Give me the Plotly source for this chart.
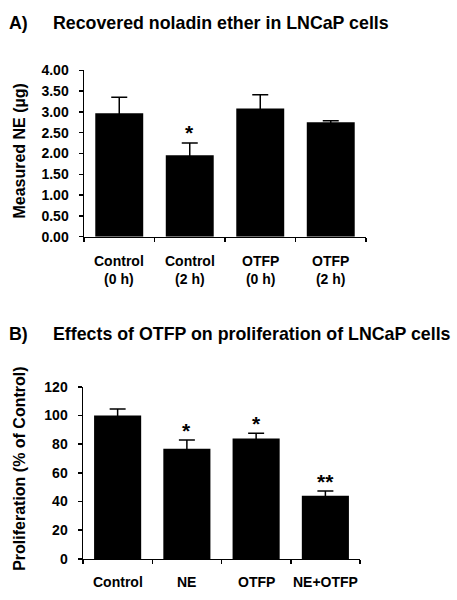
import plotly.graph_objects as go

# Panel A data
cats_a = ["Control<br>(0 h)", "Control<br>(2 h)", "OTFP<br>(0 h)", "OTFP<br>(2 h)"]
vals_a = [2.97, 1.96, 3.08, 2.75]
err_a = [0.38, 0.29, 0.33, 0.04]
sig_a = ["", "*", "", ""]

# Panel B data
cats_b = ["Control", "NE", "OTFP", "NE+OTFP"]
vals_b = [100, 76.8, 84.0, 44.0]
err_b = [4.6, 6.1, 3.6, 3.3]
sig_b = ["", "*", "*", "**"]

FONT = "Liberation Sans, Arial, sans-serif"
W, H = 457, 600

def px_x(p):
    return p / W

def px_y(p):
    return 1 - p / H

fig = go.Figure()

fig.add_trace(go.Bar(
    x=list(range(4)), y=vals_a, marker=dict(color="black", line=dict(width=0)), width=0.68,
    error_y=dict(type="data", array=err_a, color="black", thickness=1.5, width=8),
    xaxis="x", yaxis="y", showlegend=False, hoverinfo="skip"))

fig.add_trace(go.Bar(
    x=list(range(4)), y=vals_b, marker=dict(color="black", line=dict(width=0)), width=0.68,
    error_y=dict(type="data", array=err_b, color="black", thickness=1.5, width=8),
    xaxis="x2", yaxis="y2", showlegend=False, hoverinfo="skip"))

axis_common = dict(showline=True, linecolor="black", linewidth=1.5, showgrid=False,
                   zeroline=False, ticks="outside", ticklen=4, tickcolor="black", tickwidth=1.5)

fig.update_layout(
    width=W, height=H, margin=dict(l=0, r=0, t=0, b=0),
    paper_bgcolor="white", plot_bgcolor="white",
    font=dict(family=FONT, color="black"),
    xaxis=dict(domain=[px_x(84), px_x(366)], anchor="y", range=[-0.5, 3.5],
               tickmode="array", tickvals=[-0.5, 0.5, 1.5, 2.5, 3.5], ticktext=[""]*5,
               **axis_common),
    yaxis=dict(domain=[px_y(235), px_y(64)], anchor="x", range=[0, 4],
               tickmode="array", tickvals=[0, 0.5, 1, 1.5, 2, 2.5, 3, 3.5, 4], tickformat=".2f",
               ticklabelstandoff=7,
               tickfont=dict(size=14, weight="bold"), **axis_common),
    xaxis2=dict(domain=[px_x(83), px_x(360)], anchor="y2", range=[-0.5, 3.5],
                tickmode="array", tickvals=[-0.5, 0.5, 1.5, 2.5, 3.5], ticktext=[""]*5,
                **axis_common),
    yaxis2=dict(domain=[px_y(566), px_y(389.3)], anchor="x2", range=[0, 120],
                tickmode="array", tickvals=[0, 20, 40, 60, 80, 100, 120],
                ticklabelstandoff=7,
                tickfont=dict(size=14, weight="bold"), **axis_common),
)

ann = []
# Category labels
for i, c in enumerate(cats_a):
    ann.append(dict(x=i, y=0, xref="x", yref="y", text="<b>" + c + "</b>", showarrow=False,
                    yanchor="top", yshift=-14, font=dict(size=14, family=FONT)))
for i, c in enumerate(cats_b):
    ann.append(dict(x=i, y=0, xref="x2", yref="y2", text="<b>" + c + "</b>", showarrow=False,
                    yanchor="top", yshift=-13, font=dict(size=14, family=FONT)))
# significance marks
for i, s in enumerate(sig_a):
    if s:
        ann.append(dict(x=i, y=vals_a[i] + err_a[i], xref="x", yref="y", text="<b>" + s + "</b>",
                        showarrow=False, yanchor="bottom", yshift=-3, font=dict(size=21, family=FONT)))
for i, s in enumerate(sig_b):
    if s:
        ann.append(dict(x=i, y=vals_b[i] + err_b[i], xref="x2", yref="y2", text="<b>" + s + "</b>",
                        showarrow=False, yanchor="bottom", yshift=-4, font=dict(size=21, family=FONT)))
# Titles
ann += [
    dict(x=px_x(7), y=px_y(15), xref="paper", yref="paper", text="<b>A)</b>", showarrow=False,
         xanchor="left", yanchor="middle", font=dict(size=17.8, family=FONT)),
    dict(x=px_x(51), y=px_y(15), xref="paper", yref="paper", text="<b>Recovered noladin ether in LNCaP cells</b>",
         showarrow=False, xanchor="left", yanchor="middle", font=dict(size=17.8, family=FONT)),
    dict(x=px_x(7), y=px_y(335), xref="paper", yref="paper", text="<b>B)</b>", showarrow=False,
         xanchor="left", yanchor="middle", font=dict(size=17.8, family=FONT)),
    dict(x=px_x(51), y=px_y(335), xref="paper", yref="paper", text="<b>Effects of OTFP on proliferation of LNCaP cells</b>",
         showarrow=False, xanchor="left", yanchor="middle", font=dict(size=17.8, family=FONT)),
    dict(x=px_x(19.5), y=px_y(147), xref="paper", yref="paper", text="<b>Measured NE (µg)</b>",
         showarrow=False, textangle=-90, xanchor="center", yanchor="middle", font=dict(size=16, family=FONT)),
    dict(x=px_x(19.5), y=px_y(474), xref="paper", yref="paper", text="<b>Proliferation (% of Control)</b>",
         showarrow=False, textangle=-90, xanchor="center", yanchor="middle", font=dict(size=16, family=FONT)),
]
fig.update_layout(annotations=ann)

# remove the browser's default 8px page margin so paper pixels match window pixels
fig.write_html("out.html", config={"displayModeBar": False, "staticPlot": True},
               post_script="document.body.style.margin='0px';")
